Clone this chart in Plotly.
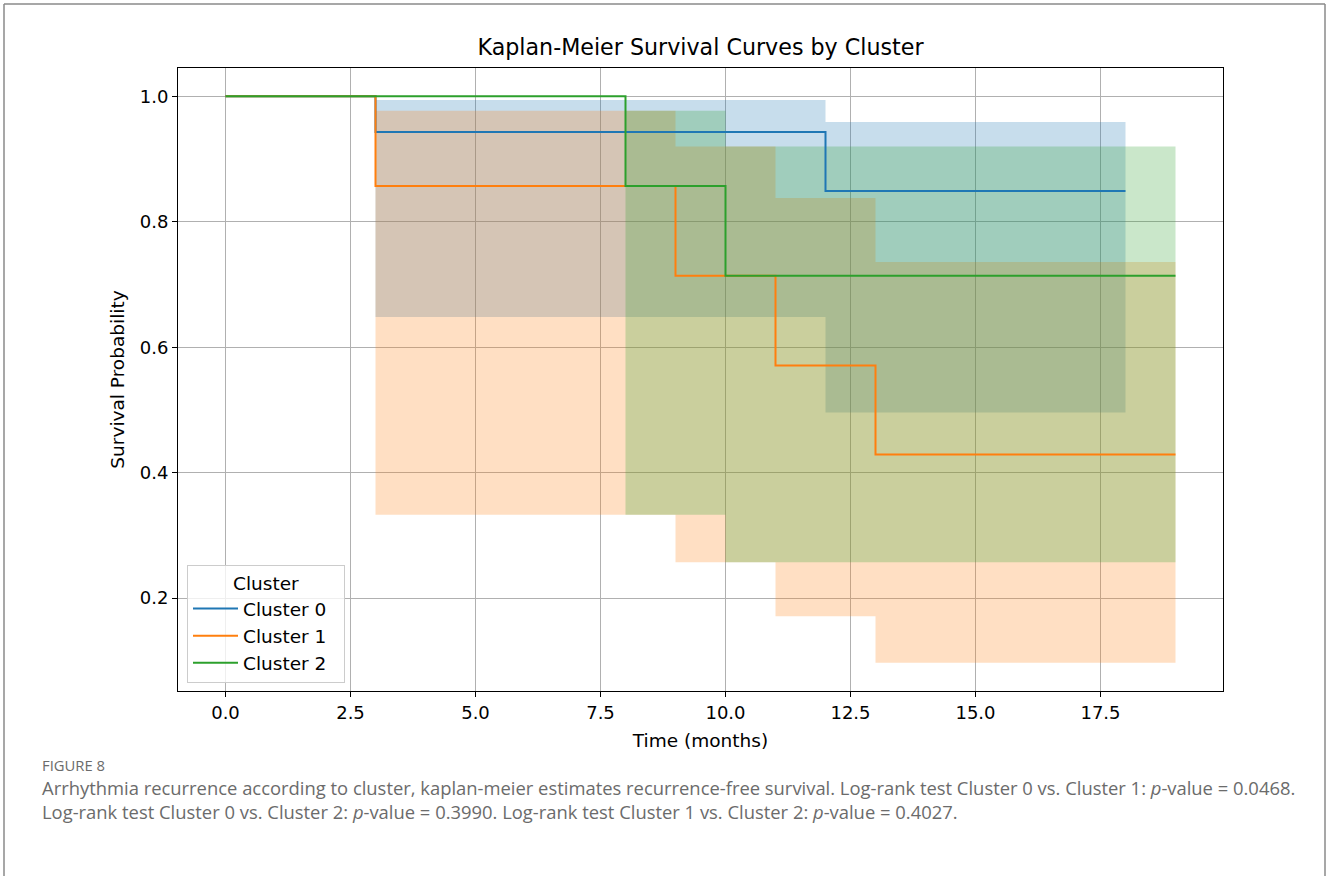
import plotly.graph_objects as go

# Kaplan-Meier step estimates with confidence bands, per cluster
cluster_names = ["Cluster 0", "Cluster 1", "Cluster 2"]

c0_time = [0, 3, 12, 18]
c0_surv = [1.0, 0.943, 0.849, 0.849]
c0_upper = [1.0, 0.994, 0.959, 0.959]
c0_lower = [1.0, 0.648, 0.496, 0.496]

c1_time = [0, 3, 9, 11, 13, 19]
c1_surv = [1.0, 0.857, 0.714, 0.571, 0.429, 0.429]
c1_upper = [1.0, 0.977, 0.920, 0.838, 0.736, 0.736]
c1_lower = [1.0, 0.333, 0.257, 0.171, 0.097, 0.097]

c2_time = [0, 8, 10, 19]
c2_surv = [1.0, 0.857, 0.714, 0.714]
c2_upper = [1.0, 0.977, 0.920, 0.920]
c2_lower = [1.0, 0.333, 0.257, 0.257]

x_ticks = [0.0, 2.5, 5.0, 7.5, 10.0, 12.5, 15.0, 17.5]
y_ticks = [0.2, 0.4, 0.6, 0.8, 1.0]

caption_title = "FIGURE 8"
caption_lines = [
    "Arrhythmia recurrence according to cluster, kaplan-meier estimates recurrence-free survival. "
    "Log-rank test Cluster 0 vs. Cluster 1: <i>p</i>-value = 0.0468.",
    "Log-rank test Cluster 0 vs. Cluster 2: <i>p</i>-value = 0.3990. "
    "Log-rank test Cluster 1 vs. Cluster 2: <i>p</i>-value = 0.4027.",
]

colors = ["#1f77b4", "#ff7f0e", "#2ca02c"]
fills = ["rgba(31,119,180,0.25)", "rgba(255,127,14,0.25)", "rgba(44,160,44,0.25)"]

series = [
    (c0_time, c0_surv, c0_upper, c0_lower),
    (c1_time, c1_surv, c1_upper, c1_lower),
    (c2_time, c2_surv, c2_upper, c2_lower),
]

fig = go.Figure()

# confidence bands first so all step lines sit above them
for (t, s, up, lo), fc in zip(series, fills):
    fig.add_trace(go.Scatter(x=t, y=lo, mode="lines", line=dict(width=0, shape="hv"),
                             showlegend=False, hoverinfo="skip"))
    fig.add_trace(go.Scatter(x=t, y=up, mode="lines", line=dict(width=0, shape="hv"),
                             fill="tonexty", fillcolor=fc, showlegend=False, hoverinfo="skip"))

for name, (t, s, up, lo), col in zip(cluster_names, series, colors):
    fig.add_trace(go.Scatter(x=t, y=s, mode="lines", name=name + "  ", legendgroup=name,
                             line=dict(color=col, width=2, shape="hv")))

L, R, T, B = 178, 1223, 68, 691
W, H = 1328, 876
pw, ph = R - L, B - T


def px(x):
    return (x - L) / pw


def py(y):
    return (B - y) / ph


MPL = "DejaVu Sans, Bitstream Vera Sans, Verdana, sans-serif"
tick_font = dict(family=MPL, size=18, color="#000000")
label_font = dict(family=MPL, size=18.5, color="#000000")

fig.update_layout(
    width=W, height=H,
    margin=dict(l=L, r=W - R, t=T, b=H - B, pad=0),
    paper_bgcolor="white", plot_bgcolor="white",
    font=dict(family=MPL, size=18, color="#000000"),
    title=dict(text="Kaplan-Meier Survival Curves by Cluster", x=px(700.5), xref="paper",
               xanchor="center", y=1 - 47 / H, yanchor="middle",
               font=dict(family=MPL, size=22.2, color="#000000")),
    showlegend=True,
    legend=dict(
        title=dict(text="Cluster", side="top center", font=dict(family=MPL, size=18.5)),
        x=px(187), y=py(565), xanchor="left", yanchor="top",
        bgcolor="rgba(255,255,255,0.8)", bordercolor="#cccccc", borderwidth=1,
        font=dict(family=MPL, size=18.5, color="#000000"),
        traceorder="normal", tracegroupgap=4, itemwidth=45,
    ),
)

fig.update_xaxes(
    range=[-0.95, 19.95], tickvals=x_ticks, ticktext=[f"{v:.1f}" for v in x_ticks],
    showgrid=True, gridcolor="#b0b0b0", gridwidth=1, zeroline=False,
    showline=True, linecolor="#000000", linewidth=1, mirror=True,
    ticks="outside", ticklen=5, tickcolor="#000000", tickfont=tick_font,
    title=dict(text="Time (months)", font=label_font, standoff=12),
)
fig.update_yaxes(
    range=[0.0518, 1.0452], tickvals=y_ticks, ticktext=[f"{v:.1f}" for v in y_ticks],
    showgrid=True, gridcolor="#b0b0b0", gridwidth=1, zeroline=False,
    showline=True, linecolor="#000000", linewidth=1, mirror=True,
    ticks="outside", ticklen=5, tickcolor="#000000", tickfont=tick_font,
    title=dict(text="Survival Probability", font=label_font, standoff=10),
)

# page frame around figure and caption
for x0, y0, x1, y1 in [(4, 4, 1325, 4), (4, 4, 4, 880), (1325, 4, 1325, 880)]:
    fig.add_shape(type="line", xref="paper", yref="paper",
                  x0=px(x0), y0=py(y0), x1=px(x1), y1=py(y1),
                  line=dict(color="#8a8a8a", width=1.5))

cap_font = dict(family="Open Sans", size=18.4, color="#6b6b6b")
fig.add_annotation(text=caption_title, xref="paper", yref="paper", x=px(40), y=py(765),
                   xanchor="left", yanchor="middle", showarrow=False,
                   font=dict(family="Open Sans", size=14.8, color="#6b6b6b"))
fig.add_annotation(text="<br>".join(caption_lines), xref="paper", yref="paper",
                   x=px(40), y=py(799.5), xanchor="left", yanchor="middle", align="left",
                   showarrow=False, font=cap_font)

fig.write_html("out.html")
